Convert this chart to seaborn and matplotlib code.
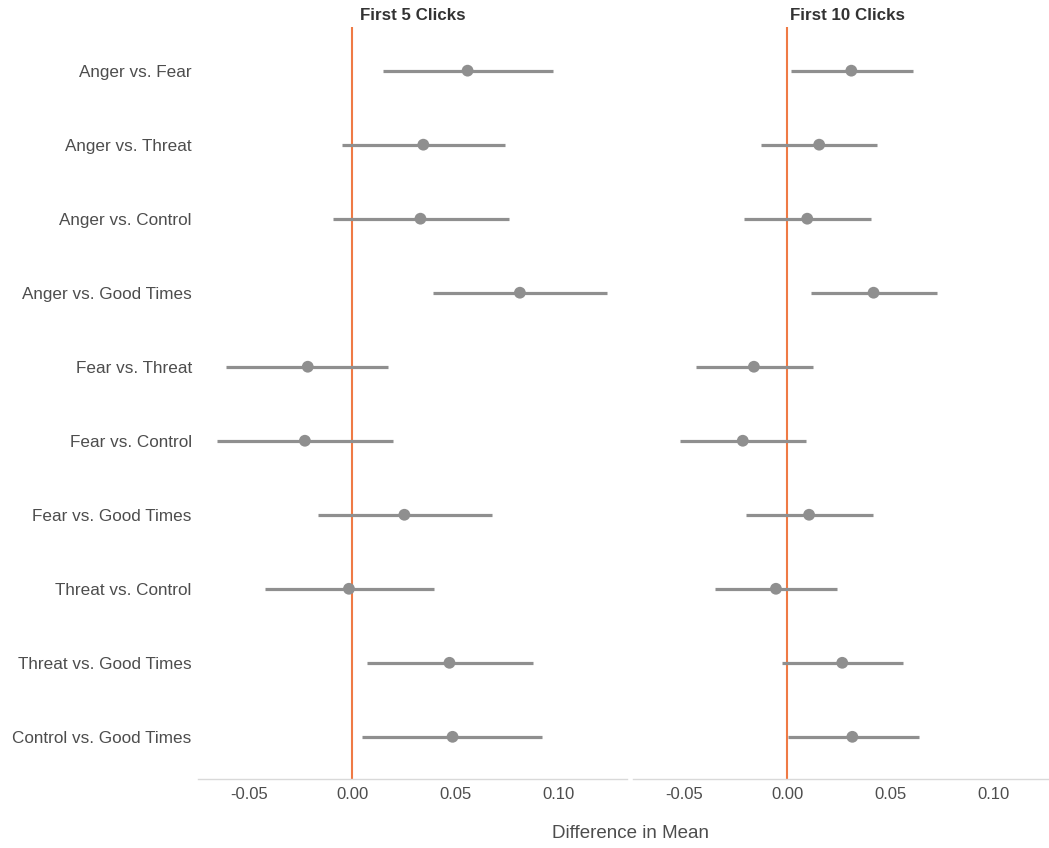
import matplotlib
matplotlib.use("Agg")
import matplotlib.pyplot as plt
import seaborn as sns
import pandas as pd

comparisons = ["Anger vs. Fear", "Anger vs. Threat", "Anger vs. Control", "Anger vs. Good Times",
               "Fear vs. Threat", "Fear vs. Control", "Fear vs. Good Times", "Threat vs. Control",
               "Threat vs. Good Times", "Control vs. Good Times"]
panels = ["First 5 Clicks", "First 10 Clicks"]

est5 = [0.0561, 0.0346, 0.0332, 0.0815, -0.0215, -0.0229, 0.0254, -0.0015, 0.0473, 0.0488]
lo5 = [0.0151, -0.0049, -0.0093, 0.0395, -0.0610, -0.0654, -0.0166, -0.0424, 0.0073, 0.0049]
hi5 = [0.0976, 0.0741, 0.0761, 0.1239, 0.0176, 0.0200, 0.0678, 0.0400, 0.0878, 0.0922]

est10 = [0.0312, 0.0156, 0.0098, 0.0420, -0.0161, -0.0215, 0.0107, -0.0054, 0.0268, 0.0317]
lo10 = [0.0020, -0.0127, -0.0210, 0.0117, -0.0444, -0.0522, -0.0200, -0.0351, -0.0024, 0.0005]
hi10 = [0.0610, 0.0439, 0.0410, 0.0727, 0.0127, 0.0093, 0.0415, 0.0244, 0.0561, 0.0639]

xticks = [-0.05, 0.00, 0.05, 0.10]
xticklabels = ["-0.05", "0.00", "0.05", "0.10"]

sns.set_style("white")
plt.rcParams['font.family'] = ['Liberation Sans', 'DejaVu Sans']

GRAY = "#8f8f8f"
ORANGE = "#ef7a45"
TXT = "#4d4d4d"

W, H = 1049, 848
fig = plt.figure(figsize=(W / 100, H / 100), dpi=100)

bottom = 1 - 779 / H
height = (779 - 27) / H
axw = 429 / W
lefts = [198 / W, 633 / W]

data = [(est5, lo5, hi5), (est10, lo10, hi10)]
for i, (title, (est, lo, hi)) in enumerate(zip(panels, data)):
    ax = fig.add_axes([lefts[i], bottom, axw, height])
    df = pd.DataFrame({"comparison": comparisons, "est": est, "lo": lo, "hi": hi})
    ax.axvline(0, color=ORANGE, lw=1.5, zorder=1)
    ax.hlines(y=range(len(comparisons)), xmin=df["lo"], xmax=df["hi"], color=GRAY, lw=2.3, zorder=2)
    sns.scatterplot(data=df, x="est", y="comparison", ax=ax, color=GRAY, s=72,
                    edgecolor="none", zorder=3)
    ax.set_ylim(len(comparisons) - 1 + 0.57, -0.59)
    ax.set_xlim(-0.0748, 0.1335)
    ax.set_xticks(xticks)
    ax.set_xticklabels(xticklabels)
    ax.set_xlabel("")
    ax.set_ylabel("")
    for s in ["top", "left", "right"]:
        ax.spines[s].set_visible(False)
    ax.spines["bottom"].set_color("#d9d9d9")
    ax.spines["bottom"].set_linewidth(1.0)
    ax.tick_params(axis="x", length=0, pad=6, labelsize=12, labelcolor=TXT)
    ax.tick_params(axis="y", length=0, pad=4.5, labelsize=12.3, labelcolor=TXT)
    if i == 1:
        ax.set_yticklabels([])
    ax.set_title(title, fontsize=12.2, fontweight="bold", color="#333333", pad=5)

fig.text(630 / W, 1 - 833 / H, "Difference in Mean", ha="center", va="center",
         fontsize=13.5, color=TXT)

fig.savefig("out.png", dpi=100)
